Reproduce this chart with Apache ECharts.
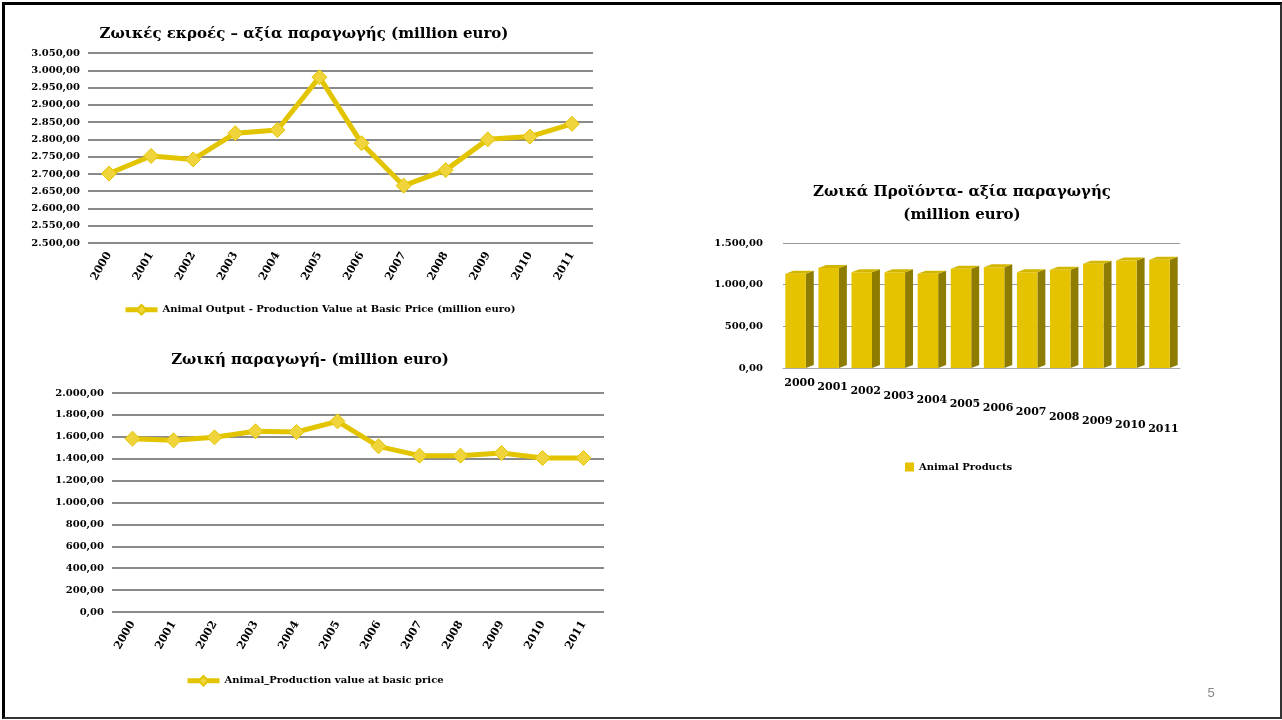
<!DOCTYPE html>
<html>
<head>
<meta charset="utf-8">
<script src="https://cdn.jsdelivr.net/npm/echarts@6/dist/echarts.min.js"></script>
<style>
html,body{margin:0;padding:0;background:#fff;}
#frame{position:absolute;left:2px;top:2px;width:1275px;height:712px;border-top:3px solid #000;border-left:3px solid #000;border-right:2px solid #333;border-bottom:2px solid #333;}
#c{position:absolute;left:0;top:0;width:1282px;height:720px;}
</style>
</head>
<body>
<div id="frame"></div>
<div id="c"></div>
<script>
const years = ['2000','2001','2002','2003','2004','2005','2006','2007','2008','2009','2010','2011'];
const animalOutput = [2701, 2752, 2742, 2818, 2827, 2980, 2789, 2666, 2711, 2800, 2808, 2845];
const animalProduction = [1583, 1568, 1595, 1650, 1644, 1741, 1513, 1428, 1428, 1452, 1406, 1406];
const animalProducts = [1130, 1200, 1150, 1150, 1130, 1190, 1210, 1150, 1180, 1250, 1290, 1300];

const titleTop = 'Ζωικές εκροές – αξία παραγωγής (million euro)';
const titleBottom = 'Ζωική παραγωγή- (million euro)';
const titleRight = 'Ζωικά Προϊόντα- αξία παραγωγής\n(million euro)';
const legendTop = 'Animal Output - Production Value at Basic Price (million euro)';
const legendBottom = 'Animal_Production value at basic price';
const legendRight = 'Animal Products';

const SERIF = '"DejaVu Serif", "Liberation Serif", serif';
const LINE = '#E3C400';
const MARK = '#EFD43C';

function grFmt(v){
  const parts = Number(v).toFixed(2).split('.');
  const intp = parts[0].replace(/\B(?=(\d{3})+(?!\d))/g, '.');
  return intp + ',' + parts[1];
}

const rich = {};
for (let i = 0; i < years.length; i++) {
  rich['p' + i] = {padding: [Math.round(i * 4.2), 0, 0, 0], fontFamily: SERIF, fontWeight: 'bold', fontSize: 11, color: '#000'};
}

const axisLabelY = {fontFamily: SERIF, fontWeight: 'bold', fontSize: 10, color: '#000', formatter: grFmt};
const xLab = {rotate: 60, margin: 10, fontFamily: SERIF, fontWeight: 'bold', fontSize: 11, color: '#000'};
const lineSeriesStyle = {
  type: 'line', symbol: 'diamond', symbolSize: 15,
  lineStyle: {color: LINE, width: 5},
  itemStyle: {color: MARK, borderColor: LINE, borderWidth: 1}
};
const titleStyle = {fontFamily: SERIF, fontWeight: 'bold', fontSize: 15, color: '#000'};
const legText = {fontFamily: SERIF, fontWeight: 'bold', fontSize: 10, color: '#000'};
const legLine = {width: 5, color: LINE};

const chart = echarts.init(document.getElementById('c'));
chart.setOption({
  animation: false,
  title: [
    {text: titleTop, left: 299, top: 22, textAlign: 'center', textStyle: titleStyle},
    {text: titleBottom, left: 305, top: 348, textAlign: 'center', textStyle: titleStyle},
    {text: titleRight, left: 957, top: 176, textAlign: 'center', textStyle: Object.assign({lineHeight: 23}, titleStyle)},
    {text: '5', left: 1206, top: 682, textAlign: 'center', textStyle: {fontFamily: 'Liberation Sans, sans-serif', fontWeight: 'normal', fontSize: 13, color: '#888'}}
  ],
  legend: [
    {data: [legendTop], left: 118, top: 299, itemWidth: 32, itemHeight: 12, itemGap: 2, textStyle: legText, lineStyle: legLine},
    {data: [legendBottom], left: 180, top: 670, itemWidth: 32, itemHeight: 12, textStyle: legText, lineStyle: legLine},
    {data: [{name: legendRight, icon: 'rect'}], left: 900, top: 457, itemWidth: 9, itemHeight: 9, textStyle: legText}
  ],
  grid: [
    {left: 88, right: 1282 - 593, top: 53, height: 190},
    {left: 112, right: 1282 - 604, top: 393, height: 219},
    {left: 783, right: 1282 - 1180, top: 243, height: 125}
  ],
  xAxis: [
    {gridIndex: 0, type: 'category', data: years, boundaryGap: true,
      axisLine: {show: false}, axisTick: {show: false}, axisLabel: xLab},
    {gridIndex: 1, type: 'category', data: years, boundaryGap: true,
      axisLine: {show: false}, axisTick: {show: false}, axisLabel: xLab},
    {gridIndex: 2, type: 'category', data: years, boundaryGap: true,
      axisLine: {show: true, lineStyle: {color: '#aaa', width: 1}}, axisTick: {show: false},
      axisLabel: {margin: 10, interval: 0, formatter: function(v, i){ return '{p' + i + '|' + v + '}'; }, rich: rich}}
  ],
  yAxis: [
    {gridIndex: 0, type: 'value', min: 2500, max: 3050, interval: 50,
      axisLine: {show: false}, axisTick: {show: false}, axisLabel: axisLabelY,
      splitLine: {lineStyle: {color: '#8a8a8a', width: 2}}},
    {gridIndex: 1, type: 'value', min: 0, max: 2000, interval: 200,
      axisLine: {show: false}, axisTick: {show: false}, axisLabel: axisLabelY,
      splitLine: {lineStyle: {color: '#8a8a8a', width: 2}}},
    {gridIndex: 2, type: 'value', min: 0, max: 1500, interval: 500,
      axisLine: {show: false}, axisTick: {show: false}, axisLabel: Object.assign({}, axisLabelY, {margin: 20}),
      splitLine: {lineStyle: {color: '#999', width: 1}}}
  ],
  series: [
    Object.assign({name: legendTop, xAxisIndex: 0, yAxisIndex: 0, data: animalOutput}, lineSeriesStyle),
    Object.assign({name: legendBottom, xAxisIndex: 1, yAxisIndex: 1, data: animalProduction}, lineSeriesStyle),
    {
      name: legendRight, type: 'custom', xAxisIndex: 2, yAxisIndex: 2,
      itemStyle: {color: '#E6C300'},
      data: animalProducts.map(function(v, i){ return [i, v]; }),
      renderItem: function(params, api){
        const top = api.coord([api.value(0), api.value(1)]);
        const base = api.coord([api.value(0), 0]);
        const step = api.size([1, 0])[0];
        const fw = step * 0.62, d = step * 0.24, e = 3;
        const x0 = top[0] - (fw + d) / 2, x1 = x0 + fw;
        return {
          type: 'group',
          children: [
            {type: 'polygon', shape: {points: [[x1, top[1]], [x1 + d, top[1] - e], [x1 + d, base[1] - e], [x1, base[1]]]},
              style: {fill: '#8E7C00'}},
            {type: 'polygon', shape: {points: [[x0, top[1]], [x0 + d, top[1] - e], [x1 + d, top[1] - e], [x1, top[1]]]},
              style: {fill: '#D2B600'}},
            {type: 'rect', shape: {x: x0, y: top[1], width: fw, height: base[1] - top[1]},
              style: {fill: '#E6C300'}}
          ]
        };
      }
    }
  ]
});
</script>
</body>
</html>
